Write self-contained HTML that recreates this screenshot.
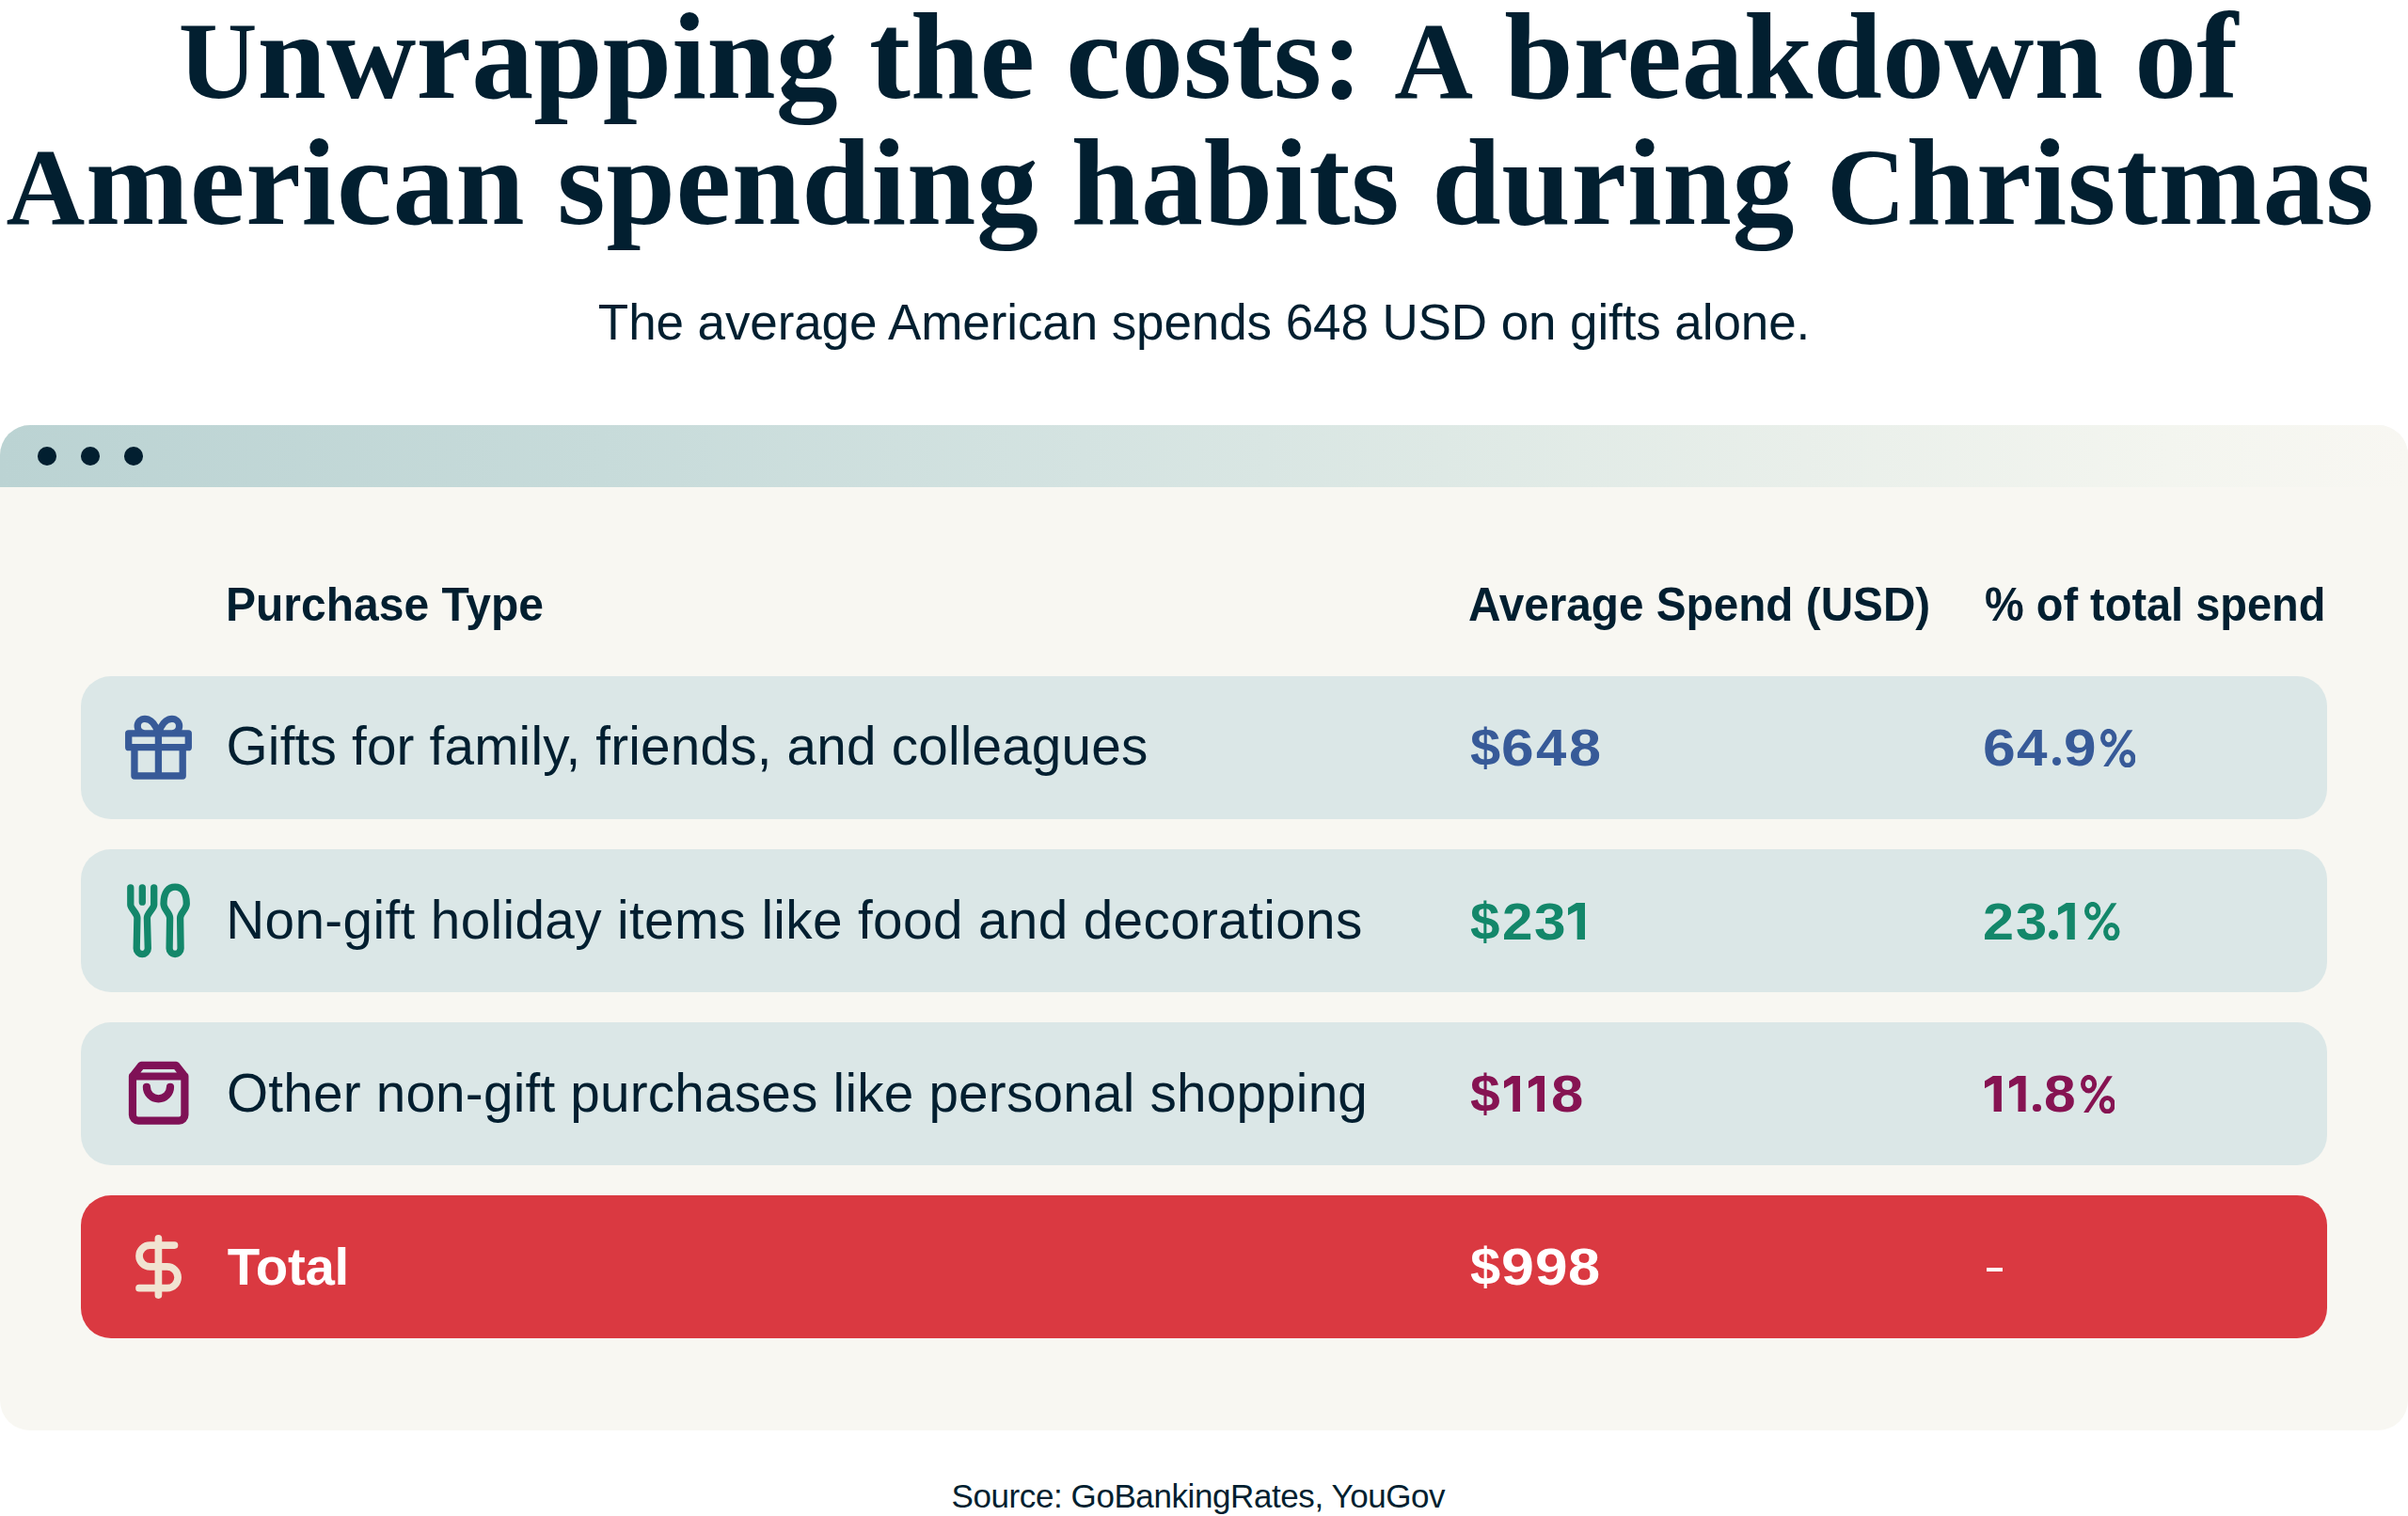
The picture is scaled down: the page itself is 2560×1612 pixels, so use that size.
<!DOCTYPE html>
<html>
<head>
<meta charset="utf-8">
<style>
html,body{margin:0;padding:0;}
body{width:2560px;height:1612px;position:relative;overflow:hidden;background:#ffffff;font-family:"Liberation Sans",sans-serif;color:#021f30;}
.t{position:absolute;white-space:nowrap;}
.title{font-family:"Liberation Serif",serif;font-weight:bold;font-size:132px;line-height:132px;left:0;width:2560px;text-align:center;color:#021f30;}
.sub{font-size:53px;line-height:53px;left:0;width:2560px;text-align:center;}
.card{position:absolute;left:0;top:452px;width:2560px;height:1069px;border-radius:32px;background:#f8f7f2;overflow:hidden;}
.bar{position:absolute;left:0;top:0;width:2560px;height:66px;background:linear-gradient(90deg,#bbd3d3 0%,#c7dbda 25%,#d4e3e1 45%,#dee9e5 60%,#e9efea 75%,#f3f5ef 90%,#f8f7f2 100%);}
.dot{position:absolute;width:19.7px;height:19.7px;border-radius:50%;background:#021f30;top:23px;}
.row{position:absolute;left:86px;width:2388px;height:152px;border-radius:32px;background:#dbe7e7;}
.hd{font-weight:bold;font-size:50px;line-height:50px;letter-spacing:-1.5px;}
.rt{font-size:56.7px;line-height:56.7px;}
.val{font-weight:bold;font-size:56.4px;line-height:56.4px;}
.cap{font-size:116px;}
.ico{position:absolute;width:90px;height:90px;}
</style>
</head>
<body>
<div class="t title" style="top:-5.8px;left:4.5px;letter-spacing:0.11px;"><span class="cap">U</span>nwrapping the costs: <span class="cap">A</span> breakdown of</div>
<div class="t title" style="top:127.8px;left:-14.5px;letter-spacing:0.8px;"><span class="cap">A</span>merican spending habits during <span class="cap">C</span>hristmas</div>
<div class="t sub" style="top:315.8px;letter-spacing:-0.1px;">The average American spends 648 USD on gifts alone.</div>

<div class="card">
  <div class="bar"></div>
  <div class="dot" style="left:40px;"></div>
  <div class="dot" style="left:86.1px;"></div>
  <div class="dot" style="left:132.3px;"></div>
</div>

<div class="t hd" style="left:240px;top:618.4px;letter-spacing:0;transform:scaleX(0.960);transform-origin:0 0;">Purchase Type</div>
<div class="t hd" style="left:1560.8px;top:618.4px;letter-spacing:0;transform:scaleX(0.954);transform-origin:0 0;">Average Spend (USD)</div>
<div class="t hd" style="left:2109.8px;top:618.4px;letter-spacing:0;transform:scaleX(0.9385);transform-origin:0 0;">% of total spend</div>

<div class="row" style="top:719px;"></div>
<div class="row" style="top:903px;"></div>
<div class="row" style="top:1087px;"></div>
<div class="row" style="top:1271px;background:#da3941;"></div>

<!-- gift -->
<svg class="ico" style="left:125px;top:750px;" viewBox="0 0 90 90" fill="none" stroke="#375a98" stroke-width="7.3" stroke-linecap="round" stroke-linejoin="round">
  <path d="M11.7 29.8H75.3V44.7H11.7Z M17.95 44.7V75H69.2V44.7 M43.4 29.8V75 M43.4 29.8H28.95A7.75 7.75 0 0 1 28.95 14.3C36 14.3 41 22 43.4 29.8 M43.4 29.8H57.85A7.75 7.75 0 0 0 57.85 14.3C50.8 14.3 45.8 22 43.4 29.8"/>
</svg>
<!-- fork & spoon -->
<svg class="ico" style="left:125px;top:935px;" viewBox="0 0 90 90" fill="none" stroke="#13876a" stroke-width="7.3" stroke-linecap="round" stroke-linejoin="round">
  <path d="M13.8 8.9V27C13.8 31 20.9 36 20.9 41L20.2 73.5A6.05 6.05 0 0 0 32.3 73.5L31.4 41C31.4 36 38.7 31 38.7 27V8.9 M26.3 8.9V24.2"/>
  <path d="M55.6 41C55.6 36 49 32 49 26C49 13 54.5 8.1 61.1 8.1C67.7 8.1 73.3 13 73.3 26C73.3 32 66.6 36 66.6 41L67.1 73.5A6 6 0 0 1 55.1 73.5Z"/>
</svg>
<!-- bag -->
<svg class="ico" style="left:125px;top:1120px;" viewBox="0 0 90 90" fill="none" stroke="#7f1156" stroke-width="8.2" stroke-linecap="round" stroke-linejoin="round">
  <path d="M25.2 12.9L15.95 24.5V65.6A6 6 0 0 0 21.95 71.6H65.4A6 6 0 0 0 71.4 65.6V24.5L62.2 12.9Z M15.95 24.5H71.4 M30.9 35.8A12.55 12.55 0 0 0 56 35.8"/>
</svg>
<!-- dollar -->
<svg class="ico" style="left:125px;top:1302px;" viewBox="0 0 90 90" fill="none" stroke="#f1e3d1" stroke-width="7.7" stroke-linecap="round" stroke-linejoin="round">
  <path d="M60.5 22.1H34.4A11.37 11.37 0 0 0 34.4 44.85H52.7A11.42 11.42 0 0 1 52.7 67.7H23 M43.4 14.9V75.1"/>
</svg>

<div class="t rt" style="left:240.6px;top:766.4px;letter-spacing:0.18px;">Gifts for family, friends, and colleagues</div>
<div class="t rt" style="left:240.3px;top:951.2px;letter-spacing:0.36px;">Non-gift holiday items like food and decorations</div>
<div class="t rt" style="left:240.95px;top:1134.8px;letter-spacing:0.2px;">Other non-gift purchases like personal shopping</div>
<div class="t val" style="left:241.8px;top:1319px;color:#ffffff;letter-spacing:-0.3px;">Total</div>

<div class="t val" style="left:1562.5px;top:766.7px;color:#375a98;transform:scaleX(1.026);transform-origin:0 0;">$</div>
<div class="t val" style="left:1596.2px;top:766.7px;color:#375a98;transform:scaleX(1.104);transform-origin:0 0;">6</div>
<div class="t val" style="left:1633.2px;top:766.7px;color:#375a98;transform:scaleX(1.029);transform-origin:0 0;">4</div>
<div class="t val" style="left:1667.8px;top:766.7px;color:#375a98;transform:scaleX(1.085);transform-origin:0 0;">8</div>
<div class="t val" style="left:2107.6px;top:766.7px;color:#375a98;transform:scaleX(1.108);transform-origin:0 0;">6</div>
<div class="t val" style="left:2144.4px;top:766.7px;color:#375a98;transform:scaleX(1.036);transform-origin:0 0;">4</div>
<div style="position:absolute;left:2181.6px;top:805.3px;width:9.1px;height:9.1px;border-radius:50%;background:#375a98;"></div>
<div class="t val" style="left:2193.8px;top:766.7px;color:#375a98;transform:scaleX(1.102);transform-origin:0 0;">9</div>
<svg style="position:absolute;left:2232.5px;top:774.6px;width:37.5px;height:41.3px;" viewBox="0 0 37.5 41.1" preserveAspectRatio="none"><g fill="none" stroke="#375a98" stroke-width="5"><ellipse cx="8.7" cy="9.6" rx="6.2" ry="7.2"/><ellipse cx="28.8" cy="31.5" rx="6.2" ry="7.2"/></g><path fill="#375a98" d="M3.2 39.7H8.4L34.4 1.3H28.6Z"/></svg>
<div class="t val" style="left:1562.6px;top:951.5px;color:#13876a;transform:scaleX(1.003);transform-origin:0 0;">$</div>
<div class="t val" style="left:1597.0px;top:951.5px;color:#13876a;transform:scaleX(1.035);transform-origin:0 0;">2</div>
<div class="t val" style="left:1630.9px;top:951.5px;color:#13876a;transform:scaleX(1.070);transform-origin:0 0;">3</div>
<svg style="position:absolute;left:1666.9px;top:959.9px;width:18.0px;height:38.9px;" viewBox="0 0 17.5 38.9" preserveAspectRatio="none"><path fill="#13876a" d="M0 5.5L8.6 0H17.5V38.9H9.4V8L0 13.3Z"/></svg>
<div class="t val" style="left:2108.2px;top:951.5px;color:#13876a;transform:scaleX(1.053);transform-origin:0 0;">2</div>
<div class="t val" style="left:2142.5px;top:951.5px;color:#13876a;transform:scaleX(1.059);transform-origin:0 0;">3</div>
<div style="position:absolute;left:2178.3px;top:989.3px;width:9.5px;height:9.5px;border-radius:50%;background:#13876a;"></div>
<svg style="position:absolute;left:2188.4px;top:959.9px;width:17.8px;height:38.9px;" viewBox="0 0 17.5 38.9" preserveAspectRatio="none"><path fill="#13876a" d="M0 5.5L8.6 0H17.5V38.9H9.4V8L0 13.3Z"/></svg>
<svg style="position:absolute;left:2216.3px;top:958.9px;width:37.5px;height:41.3px;" viewBox="0 0 37.5 41.1" preserveAspectRatio="none"><g fill="none" stroke="#13876a" stroke-width="5"><ellipse cx="8.7" cy="9.6" rx="6.2" ry="7.2"/><ellipse cx="28.8" cy="31.5" rx="6.2" ry="7.2"/></g><path fill="#13876a" d="M3.2 39.7H8.4L34.4 1.3H28.6Z"/></svg>
<div class="t val" style="left:1562.5px;top:1135px;color:#861352;transform:scaleX(1.013);transform-origin:0 0;">$</div>
<svg style="position:absolute;left:1598.8px;top:1143.6px;width:17.3px;height:38.9px;" viewBox="0 0 17.5 38.9" preserveAspectRatio="none"><path fill="#861352" d="M0 5.5L8.6 0H17.5V38.9H9.4V8L0 13.3Z"/></svg>
<svg style="position:absolute;left:1625.0px;top:1143.6px;width:17.2px;height:38.9px;" viewBox="0 0 17.5 38.9" preserveAspectRatio="none"><path fill="#861352" d="M0 5.5L8.6 0H17.5V38.9H9.4V8L0 13.3Z"/></svg>
<div class="t val" style="left:1648.7px;top:1135px;color:#861352;transform:scaleX(1.095);transform-origin:0 0;">8</div>
<svg style="position:absolute;left:2110.0px;top:1143.6px;width:17.9px;height:38.9px;" viewBox="0 0 17.5 38.9" preserveAspectRatio="none"><path fill="#861352" d="M0 5.5L8.6 0H17.5V38.9H9.4V8L0 13.3Z"/></svg>
<svg style="position:absolute;left:2136.2px;top:1143.6px;width:17.6px;height:38.9px;" viewBox="0 0 17.5 38.9" preserveAspectRatio="none"><path fill="#861352" d="M0 5.5L8.6 0H17.5V38.9H9.4V8L0 13.3Z"/></svg>
<div style="position:absolute;left:2161.0px;top:1173.6px;width:8.9px;height:8.9px;border-radius:50%;background:#861352;"></div>
<div class="t val" style="left:2172.5px;top:1135px;color:#861352;transform:scaleX(1.074);transform-origin:0 0;">8</div>
<svg style="position:absolute;left:2211.6px;top:1142.6px;width:36.9px;height:41.3px;" viewBox="0 0 37.5 41.1" preserveAspectRatio="none"><g fill="none" stroke="#861352" stroke-width="5"><ellipse cx="8.7" cy="9.6" rx="6.2" ry="7.2"/><ellipse cx="28.8" cy="31.5" rx="6.2" ry="7.2"/></g><path fill="#861352" d="M3.2 39.7H8.4L34.4 1.3H28.6Z"/></svg>
<div class="t val" style="left:1562.5px;top:1319px;color:#ffffff;transform:scaleX(1.026);transform-origin:0 0;">$</div>
<div class="t val" style="left:1596.3px;top:1319px;color:#ffffff;transform:scaleX(1.113);transform-origin:0 0;">9</div>
<div class="t val" style="left:1631.7px;top:1319px;color:#ffffff;transform:scaleX(1.102);transform-origin:0 0;">9</div>
<div class="t val" style="left:1667.0px;top:1319px;color:#ffffff;transform:scaleX(1.088);transform-origin:0 0;">8</div>
<div style="position:absolute;left:2111.7px;top:1348px;width:17px;height:4.2px;background:#ffffff;"></div>

<div class="t" style="left:1011.5px;top:1573px;font-size:35px;line-height:35px;letter-spacing:-0.41px;">Source: GoBankingRates, YouGov</div>
</body>
</html>
